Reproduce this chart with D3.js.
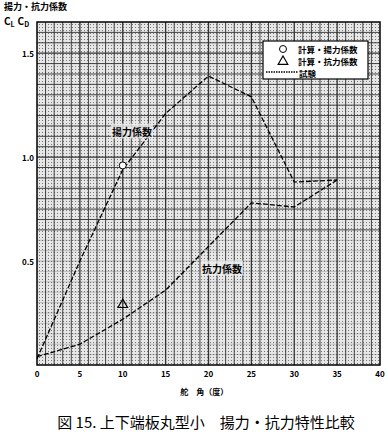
<!DOCTYPE html>
<html>
<head>
<meta charset="utf-8">
<script src="https://cdn.jsdelivr.net/npm/d3@7"></script>
<style>
  body { margin: 0; background: #fff; }
  text { font-family: "Noto Sans CJK JP", "Noto Sans", sans-serif; }
</style>
</head>
<body>
<div id="chart"></div>
<script>
// test data
var angles = [0, 5, 10, 15, 20, 25, 30, 35];
var liftTest = [0.03, 0.50, 0.94, 1.21, 1.39, 1.29, 0.88, 0.89];
var dragTest = [0.04, 0.10, 0.22, 0.36, 0.57, 0.78, 0.76, 0.89];
// calculated values
var calcAngles = [10];
var calcLift = [0.96];
var calcDrag = [0.29];
var xTicks = [0, 5, 10, 15, 20, 25, 30, 35, 40];
var yTicks = [0.5, 1.0, 1.5];

var width = 388, height = 438;
var margin = { top: 22, right: 8, bottom: 73, left: 37 };

var svg = d3.select("#chart").append("svg")
	.attr("width", width)
	.attr("height", height);

var x = d3.scaleLinear().domain([0, 40]).range([margin.left, width - margin.right]);
var y = d3.scaleLinear().domain([0, 1.65]).range([height - margin.bottom, margin.top]);

// halftone background
var defs = svg.append("defs");
var pat = defs.append("pattern")
	.attr("id", "dots")
	.attr("width", 3).attr("height", 3)
	.attr("patternUnits", "userSpaceOnUse");
pat.append("rect").attr("width", 3).attr("height", 3).attr("fill", "#e6e6e6");
pat.append("rect").attr("width", 1).attr("height", 1).attr("fill", "#777");

svg.append("rect")
	.attr("x", x(0)).attr("y", y(1.65))
	.attr("width", x(40) - x(0)).attr("height", y(0) - y(1.65))
	.attr("fill", "url(#dots)");

// graph paper grid
var g = svg.append("g");
g.selectAll(".vgrid")
	.data(d3.range(1, 40))
	.join("line")
	.attr("x1", d => x(d)).attr("x2", d => x(d))
	.attr("y1", y(1.65)).attr("y2", y(0))
	.attr("stroke", "#333")
	.attr("stroke-width", d => d % 5 == 0 ? 1.3 : 0.9);

g.selectAll(".hgrid")
	.data(d3.range(1, 33).map(d => d * 0.05))
	.join("line")
	.attr("x1", x(0)).attr("x2", x(40))
	.attr("y1", d => y(d)).attr("y2", d => y(d))
	.attr("stroke", "#333")
	.attr("stroke-opacity", d => d > 0.62 ? 1 : 0.25)
	.attr("stroke-width", d => Math.round(d * 100) % 50 == 0 ? 1.3 : 0.9);

// frame
svg.append("rect")
	.attr("x", x(0)).attr("y", y(1.65))
	.attr("width", x(40) - x(0)).attr("height", y(0) - y(1.65))
	.attr("fill", "none").attr("stroke", "#000").attr("stroke-width", 1.5);

// tick labels
svg.selectAll(".xt")
	.data(xTicks)
	.join("text")
	.attr("x", d => x(d)).attr("y", y(0) + 12)
	.attr("text-anchor", "middle")
	.style("font-size", "8px").style("font-weight", "bold")
	.text(d => d);

svg.selectAll(".yt")
	.data(yTicks)
	.join("text")
	.attr("x", x(0) - 3).attr("y", d => y(d))
	.attr("text-anchor", "end")
	.attr("dominant-baseline", "central")
	.style("font-size", "8px").style("font-weight", "bold")
	.text(d => d.toFixed(1));

// axis titles
svg.append("text")
	.attr("x", 4).attr("y", 10)
	.style("font-size", "9px").style("font-weight", "bold")
	.text("揚力・抗力係数");

var yl = svg.append("text")
	.attr("x", 4).attr("y", 25)
	.style("font-size", "10px").style("font-weight", "bold");
yl.append("tspan").text("C");
yl.append("tspan").attr("dy", 2).style("font-size", "7px").text("L");
yl.append("tspan").attr("dx", 3).attr("dy", -2).text("C");
yl.append("tspan").attr("dy", 2).style("font-size", "7px").text("D");

svg.append("text")
	.attr("x", x(19.5)).attr("y", y(0) + 30)
	.attr("text-anchor", "middle")
	.style("font-size", "8px").style("font-weight", "bold")
	.text("舵　角（度）");

// test curves
var line = d3.line()
	.x((d, i) => x(angles[i]))
	.y(d => y(d));

svg.append("path")
	.attr("d", line(liftTest))
	.attr("fill", "none").attr("stroke", "#000")
	.attr("stroke-width", 1.3).attr("stroke-dasharray", "5,2");

svg.append("path")
	.attr("d", line(dragTest))
	.attr("fill", "none").attr("stroke", "#000")
	.attr("stroke-width", 1.3).attr("stroke-dasharray", "5,2");

// calculated points
svg.selectAll(".cl")
	.data(calcLift)
	.join("circle")
	.attr("cx", (d, i) => x(calcAngles[i])).attr("cy", d => y(d))
	.attr("r", 3.5)
	.attr("fill", "#fff").attr("stroke", "#000").attr("stroke-width", 1);

var tri = d3.symbol().type(d3.symbolTriangle).size(40);
svg.selectAll(".cd")
	.data(calcDrag)
	.join("path")
	.attr("d", tri)
	.attr("transform", (d, i) => "translate(" + x(calcAngles[i]) + "," + y(d) + ")")
	.attr("fill", "none").attr("stroke", "#000").attr("stroke-width", 1.2);

// curve labels
function label(text, cx, cy) {
	var t = svg.append("text")
		.attr("x", cx).attr("y", cy)
		.attr("text-anchor", "middle")
		.attr("dominant-baseline", "central")
		.style("font-size", "10px").style("font-weight", "bold")
		.text(text);
	var b = t.node().getBBox();
	svg.insert("rect", function() { return t.node(); })
		.attr("x", b.x - 1).attr("y", b.y)
		.attr("width", b.width + 2).attr("height", b.height)
		.attr("fill", "#eee").attr("fill-opacity", 0.8);
}
label("揚力係数", 132, 131);
label("抗力係数", 222, 268);

// legend
var lg = svg.append("g").attr("transform", "translate(263,41)");
lg.append("rect")
	.attr("width", 105).attr("height", 38)
	.attr("fill", "#fff").attr("stroke", "#000").attr("stroke-width", 1.2);
lg.append("circle")
	.attr("cx", 20).attr("cy", 8).attr("r", 3.5)
	.attr("fill", "none").attr("stroke", "#000");
lg.append("path")
	.attr("d", tri)
	.attr("transform", "translate(20,20.5)")
	.attr("fill", "none").attr("stroke", "#000").attr("stroke-width", 1.2);
lg.append("line")
	.attr("x1", 3).attr("x2", 35).attr("y1", 31).attr("y2", 31)
	.attr("stroke", "#000").attr("stroke-width", 1.3).attr("stroke-dasharray", "1.5,1");
var legendText = ["計算・揚力係数", "計算・抗力係数", "試験"];
lg.selectAll(".lt")
	.data(legendText)
	.join("text")
	.attr("x", (d, i) => i < 2 ? 35 : 36)
	.attr("y", (d, i) => 8 + i * 12)
	.attr("dominant-baseline", "central")
	.style("font-size", "8.5px").style("font-weight", "bold")
	.text(d => d);

// caption
svg.append("text")
	.attr("x", 206).attr("y", 428)
	.attr("text-anchor", "middle")
	.style("font-size", "15px")
	.text("図 15. 上下端板丸型小　揚力・抗力特性比較");
</script>
</body>
</html>
